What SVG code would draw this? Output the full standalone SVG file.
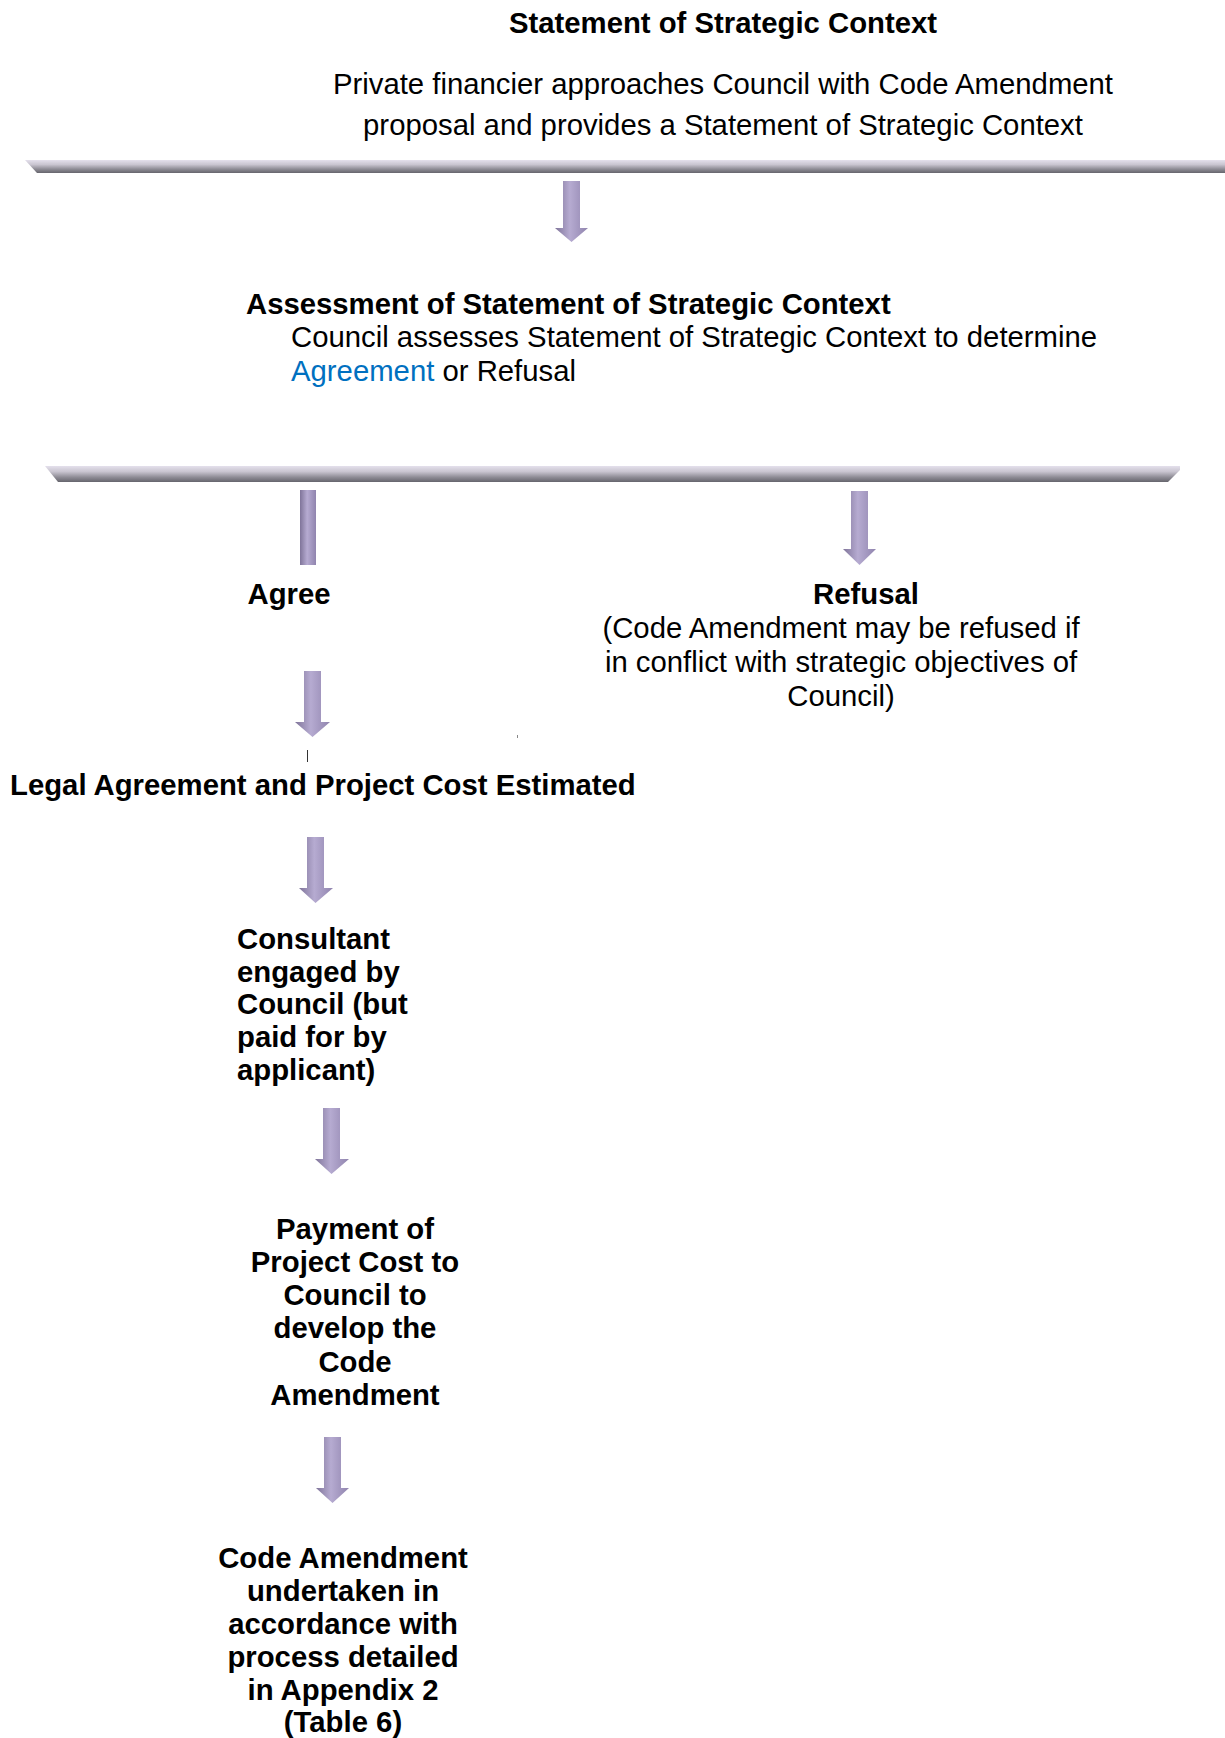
<svg xmlns="http://www.w3.org/2000/svg" width="1225" height="1738" viewBox="0 0 1225 1738">
<defs>
<linearGradient id="barG" x1="0" y1="0" x2="0" y2="1">
<stop offset="0" stop-color="#e4e0ec"/>
<stop offset="0.35" stop-color="#c9c5d0"/>
<stop offset="0.7" stop-color="#8e8c95"/>
<stop offset="1" stop-color="#66656d"/>
</linearGradient>
<linearGradient id="arrG" x1="0" y1="0" x2="1" y2="0">
<stop offset="0" stop-color="#7f7499"/>
<stop offset="0.45" stop-color="#b6abd1"/>
<stop offset="1" stop-color="#9084ae"/>
</linearGradient>
<style>
text{font-family:"Liberation Sans",Arial,sans-serif;font-size:29.3px;fill:#000}
.b{font-weight:bold}
.m{text-anchor:middle}
.arr{fill:url(#arrG)}
.bar{fill:url(#barG)}
</style>
</defs>

<g id="bars">
<path class="bar" d="M25,160 L1225,160 L1225,173 L37,173 Z"/>
<path class="bar" d="M45,466 L1180,466 L1180,470 L1168,482 L58,482 Z"/>
</g>

<g id="connectors">
<path class="arr" d="M563,181 H580 V228 H588 L571.5,242 L555,228 H563 Z"/>
<rect class="arr" x="300" y="490" width="16" height="75"/>
<path class="arr" d="M851,491 H868 V549 H876 L859.5,565 L843,549 H851 Z"/>
<path class="arr" d="M304,671 H321 V722 H330 L312.5,737 L295,722 H304 Z"/>
<path class="arr" d="M307,837 H324 V888 H333 L315.5,903 L299,888 H307 Z"/>
<path class="arr" d="M323,1108 H340 V1159 H349 L331.5,1174 L315,1159 H323 Z"/>
<path class="arr" d="M324,1437 H341 V1488 H349 L332.5,1503 L316,1488 H324 Z"/>
<line x1="307.5" y1="750" x2="307.5" y2="762" stroke="#333" stroke-width="1"/>
<line x1="517.5" y1="735" x2="517.5" y2="738" stroke="#888" stroke-width="1"/>
</g>

<g id="node-statement">
<text class="b m" x="723" y="33">Statement of Strategic Context</text>
<text class="m" x="723" y="94">Private financier approaches Council with Code Amendment</text>
<text class="m" x="723" y="135">proposal and provides a Statement of Strategic Context</text>
</g>

<g id="node-assessment">
<text class="b" x="246" y="314">Assessment of Statement of Strategic Context</text>
<text x="291" y="347">Council assesses Statement of Strategic Context to determine</text>
<text x="291" y="381"><tspan fill="#0070c0">Agreement</tspan> or Refusal</text>
</g>

<g id="node-agree">
<text class="b m" x="289" y="604">Agree</text>
</g>

<g id="node-refusal">
<text class="b m" x="866" y="604">Refusal</text>
<text class="m" x="841" y="638">(Code Amendment may be refused if</text>
<text class="m" x="841" y="672">in conflict with strategic objectives of</text>
<text class="m" x="841" y="706">Council)</text>
</g>

<g id="node-legal">
<text class="b" x="10" y="795">Legal Agreement and Project Cost Estimated</text>
</g>

<g id="node-consultant">
<text class="b" x="237" y="949">Consultant</text>
<text class="b" x="237" y="982">engaged by</text>
<text class="b" x="237" y="1014">Council (but</text>
<text class="b" x="237" y="1047">paid for by</text>
<text class="b" x="237" y="1080">applicant)</text>
</g>

<g id="node-payment">
<text class="b m" x="355" y="1239">Payment of</text>
<text class="b m" x="355" y="1272">Project Cost to</text>
<text class="b m" x="355" y="1305">Council to</text>
<text class="b m" x="355" y="1338">develop the</text>
<text class="b m" x="355" y="1372">Code</text>
<text class="b m" x="355" y="1405">Amendment</text>
</g>

<g id="node-code-amendment">
<text class="b m" x="343" y="1568">Code Amendment</text>
<text class="b m" x="343" y="1601">undertaken in</text>
<text class="b m" x="343" y="1634">accordance with</text>
<text class="b m" x="343" y="1667">process detailed</text>
<text class="b m" x="343" y="1700">in Appendix 2</text>
<text class="b m" x="343" y="1732">(Table 6)</text>
</g>
</svg>
